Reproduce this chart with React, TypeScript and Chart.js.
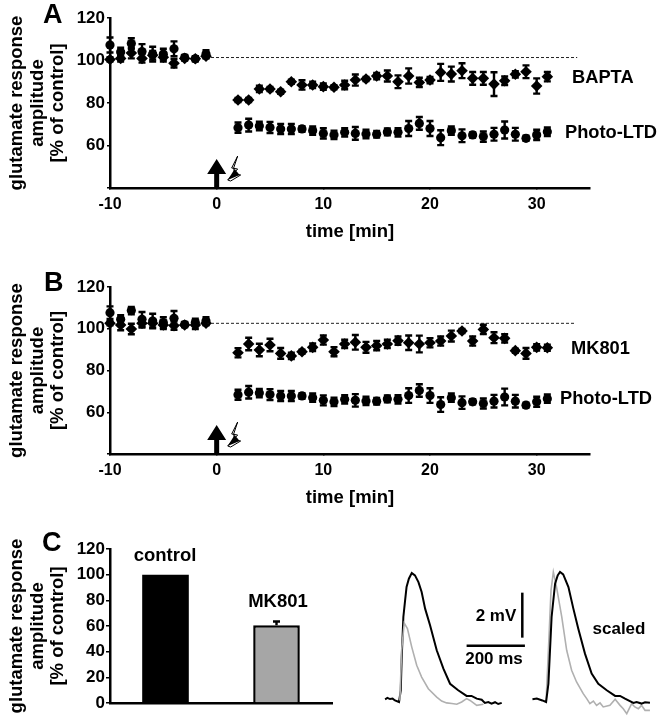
import React, { useEffect, useRef } from "react";
import { Chart, registerables } from "chart.js";

Chart.register(...registerables);

const FONT = "'Liberation Sans', Arial, sans-serif";
const yTitleLines = ["glutamate response", "amplitude", "[% of control]"];

const minutesPre = [-10, -9, -8, -7, -6, -5, -4, -3, -2, -1];
const minutesPost = [2, 3, 4, 5, 6, 7, 8, 9, 10, 11, 12, 13, 14, 15, 16, 17, 18, 19, 20, 21, 22, 23, 24, 25, 26, 27, 28, 29, 30, 31];

const preCircleA = [107.3, 104, 108, 104.2, 103, 103, 105.5, 101.4, 100.8, 103];
const preCircleErrA = [3.5, 2, 2.5, 3.5, 3.5, 2.5, 3.5, 1.2, 1.2, 1.8];
const preDiamondA = [100.5, 101, 103.5, 101, 102.5, 101.5, 98.7, 101, 100.8, 102];
const preDiamondErrA = [1, 1.5, 2.5, 2, 2, 2, 2, 1, 1, 1];
const bapta = [81.4, 81.4, 86.6, 86.6, 85.3, 90, 88.5, 88.5, 87.7, 87.4, 88.5, 90.8, 91.3, 92.7, 92.7, 90, 92.7, 89.7, 90.8, 94.4, 93.6, 95.2, 91.6, 91.6, 88.9, 90.5, 93.5, 94.7, 88, 92.4];
const baptaErr = [1, 1, 1.5, 1, 1, 1, 2.2, 1.5, 1.5, 1, 2, 2.6, 1, 1.5, 2.6, 3, 3.6, 2.2, 1.5, 4, 3.5, 3.5, 3, 3, 5.6, 2, 1.5, 3, 3.6, 2.2];

const photoLTD = [68.4, 69.6, 69.2, 68.5, 67.8, 67.8, 67.8, 67, 65.7, 65, 66.2, 65.7, 65.4, 65.3, 66.4, 66.2, 68, 70.4, 68, 63.7, 67, 64.6, 65, 64.2, 65.3, 67.3, 65.3, 63.4, 65, 66.5];
const photoLTDErr = [2.4, 3, 2, 2.6, 2.4, 2.4, 1.3, 2, 2.4, 2, 2, 3, 2, 1.6, 1.6, 2, 3.5, 3, 3.5, 3.5, 2, 3, 1.2, 2.4, 3, 4, 3, 1.2, 2.4, 2];

const preCircleB = [107.7, 104.5, 108.7, 104.5, 103.7, 103, 105, 102, 103, 103.7];
const preCircleErrB = [3, 2, 1.8, 3.5, 3.5, 2.5, 3.5, 1.2, 1.8, 1.8];
const preDiamondB = [102.6, 101.8, 99.9, 102.6, 102.6, 101.8, 101.5, 101.8, 101.8, 102.6];
const preDiamondErrB = [1, 2.5, 2.5, 2, 2, 2, 2, 1, 2, 1];
const mk801 = [88.5, 92.7, 89.8, 92.2, 88.2, 87, 89, 91.1, 94.6, 89, 92.7, 93.5, 91.1, 91.9, 92.7, 94.3, 93.3, 92.7, 93.3, 94.1, 96.5, 98.9, 94.1, 99.7, 95.7, 95.4, 89.5, 88.2, 91.1, 90.9];
const mk801Err = [2.2, 3, 3, 3, 2.6, 1.5, 1, 1.8, 2.2, 2.2, 2, 3.5, 2.6, 2.2, 2, 2, 3.5, 4, 2.2, 2.2, 2.6, 1, 2.2, 2.2, 2.6, 2, 1, 2.6, 1.5, 1.5];

const barCategories = ["control", "MK801"];
const barValues = [100, 60.5];
const barErrors = [0, 3];
const barColors = ["#000000", "#a6a6a6"];

const blackLeftT = [52, 60, 69, 78, 86, 100, 106, 109, 115, 121, 126, 134, 144, 155, 167, 178, 190, 207, 230, 253, 276, 304, 333, 350, 368, 385, 396, 408, 419, 431, 442, 454];
const blackLeftV = [0.12, 0.18, 0.13, 0.15, 0.07, 0, 0.52, 1.85, 3.78, 4.52, 5.11, 5.48, 5.73, 5.63, 5.33, 4.89, 4.15, 3.41, 2.3, 1.48, 0.81, 0.52, 0.27, 0.27, 0.15, 0.1, -0.04, 0, -0.07, -0.01, -0.09, -0.04];
const grayLeftT = [103, 109, 118, 129, 144, 161, 178, 201, 230, 247, 264, 282, 299, 316, 333, 345, 368, 391];
const grayLeftV = [0.07, 2.3, 3.51, 3.26, 2.44, 1.63, 1.11, 0.59, 0.22, 0.04, -0.04, -0.07, -0.1, 0, 0.15, 0.07, -0.15, -0.1];
const blackRightT = [560, 575, 594, 607, 615, 626, 638, 647, 655, 666, 684, 701, 718, 741, 764, 787, 816, 845, 862, 879, 908, 919, 936, 948, 965];
const blackRightV = [0.12, 0.15, 0.07, 0, 0.81, 3.78, 5.26, 5.63, 5.78, 5.67, 5.11, 4.15, 3.26, 2.15, 1.26, 0.81, 0.52, 0.27, 0.27, 0.15, -0.04, 0, -0.07, -0.01, -0.03];
const grayRightT = [607, 615, 624, 632, 643, 661, 678, 695, 712, 735, 747, 758, 770, 781, 793, 804, 827, 845, 862, 873, 885, 902, 913, 925, 936, 948, 965];
const grayRightV = [0.04, 2.3, 4.96, 5.78, 5.11, 3.78, 2.3, 1.41, 0.89, 0.37, 0.15, -0.07, 0.04, -0.15, -0.04, -0.22, -0.15, 0.12, -0.15, -0.3, -0.52, -0.07, -0.22, -0.3, -0.15, -0.37, -0.37];
const scaleBarTimeT = [333, 534];
const scaleBarTimeV = [2.5, 2.5];
const scaleBarVoltT = [525, 525];
const scaleBarVoltV = [2.86, 4.86];

const zip = (xs: number[], ys: number[]) => xs.map((x, i) => ({ x, y: ys[i] }));

type Label = { text: string; x: number; y: number; size?: number; align?: CanvasTextAlign };

const labelsPlugin = {
  id: "panelLabels",
  afterDraw(chart: any) {
    const labels: Label[] = chart.options.plugins.panelLabels?.labels || [];
    const { ctx } = chart;
    ctx.save();
    ctx.fillStyle = "#000";
    ctx.textBaseline = "middle";
    labels.forEach((l) => {
      ctx.font = `bold ${l.size || 18.3}px ${FONT}`;
      ctx.textAlign = l.align || "left";
      ctx.fillText(l.text, l.x, l.y);
    });
    ctx.restore();
  },
};

const errorBarsPlugin = {
  id: "errorBars",
  afterDatasetsDraw(chart: any) {
    const { ctx, scales } = chart;
    ctx.save();
    ctx.strokeStyle = "#000";
    ctx.lineWidth = 2.4;
    chart.data.datasets.forEach((ds: any, di: number) => {
      if (!ds.errors) return;
      const meta = chart.getDatasetMeta(di);
      meta.data.forEach((el: any, i: number) => {
        const e = ds.errors[i];
        if (!e) return;
        const v = chart.config.type === "bar" ? ds.data[i] : ds.data[i].y;
        const top = scales.y.getPixelForValue(v + e);
        const bot = scales.y.getPixelForValue(ds.errorUpOnly ? v : v - e);
        ctx.beginPath();
        ctx.moveTo(el.x, top);
        ctx.lineTo(el.x, bot);
        ctx.moveTo(el.x - 3.5, top);
        ctx.lineTo(el.x + 3.5, top);
        if (!ds.errorUpOnly) {
          ctx.moveTo(el.x - 3.5, bot);
          ctx.lineTo(el.x + 3.5, bot);
        }
        ctx.stroke();
      });
    });
    ctx.restore();
  },
};

const stimulusPlugin = {
  id: "stimulus",
  afterDatasetsDraw(chart: any) {
    const { ctx, scales } = chart;
    const x0 = scales.x.getPixelForValue(0);
    const base = scales.y.bottom;
    ctx.save();
    ctx.fillStyle = "#000";
    ctx.beginPath();
    ctx.moveTo(x0, base - 29);
    ctx.lineTo(x0 + 9.5, base - 14);
    ctx.lineTo(x0 + 2.5, base - 14);
    ctx.lineTo(x0 + 2.5, base);
    ctx.lineTo(x0 - 2.5, base);
    ctx.lineTo(x0 - 2.5, base - 14);
    ctx.lineTo(x0 - 9.5, base - 14);
    ctx.closePath();
    ctx.fill();
    const lx = x0 + 12;
    ctx.beginPath();
    ctx.moveTo(lx + 9, base - 32);
    ctx.lineTo(lx + 3, base - 20);
    ctx.lineTo(lx + 9, base - 19);
    ctx.lineTo(lx - 1, base - 8);
    ctx.lineTo(lx + 2, base - 7);
    ctx.lineTo(lx + 12, base - 13);
    ctx.lineTo(lx + 6, base - 14);
    ctx.lineTo(lx + 5, base - 20);
    ctx.closePath();
    ctx.strokeStyle = "#000";
    ctx.lineWidth = 1;
    ctx.stroke();
    ctx.beginPath();
    ctx.moveTo(lx + 6, base - 19);
    ctx.lineTo(lx - 1, base - 8);
    ctx.lineTo(lx + 11, base - 13);
    ctx.closePath();
    ctx.fill();
    ctx.restore();
  },
};

const axisCommon = {
  border: { color: "#000", width: 2.5 },
  grid: { drawOnChartArea: false, color: "#000", lineWidth: 1.5 },
};

function timeChart(
  canvas: HTMLCanvasElement,
  series: any[],
  dashY: number,
  dashEnd: number,
  chartTop: number,
  chartBottom: number,
  labels: Label[],
) {
  const H = canvas.height;
  const datasets: any[] = [
    {
      type: "line",
      data: [{ x: -1, y: dashY }, { x: dashEnd, y: dashY }],
      borderColor: "#222",
      borderWidth: 1,
      borderDash: [3, 2],
      pointRadius: 0,
    },
    ...series.map((s) => ({
      type: "line",
      showLine: false,
      clip: false,
      data: zip(s.x, s.y),
      errors: s.err,
      pointStyle: s.style,
      pointRadius: s.style === "circle" ? 4.6 : 5.8,
      pointBackgroundColor: "#000",
      pointBorderColor: "#000",
      pointBorderWidth: 0,
    })),
  ];
  return new Chart(canvas, {
    type: "line",
    data: { datasets },
    plugins: [errorBarsPlugin, stimulusPlugin, labelsPlugin],
    options: {
      animation: false,
      responsive: false,
      layout: { padding: { top: chartTop, right: 73, left: 0, bottom: 0 } },
      plugins: { legend: { display: false }, tooltip: { enabled: false }, panelLabels: { labels } } as any,
      scales: {
        x: {
          ...axisCommon,
          type: "linear",
          min: -10,
          max: 35,
          afterFit: (s: any) => { s.height = H - chartBottom; },
          grid: { ...axisCommon.grid, tickLength: 1 },
          ticks: { stepSize: 10, includeBounds: false, color: "#000", padding: 6, maxRotation: 0, font: { family: FONT, weight: "bold", size: 16 } },
          title: { display: true, text: "time [min]", color: "#000", font: { family: FONT, weight: "bold", size: 18.5, lineHeight: 1.1 }, padding: { top: 0, bottom: H - chartBottom - 54 } },
        },
        y: {
          ...axisCommon,
          min: 40,
          max: 120,
          afterFit: (s: any) => { s.width = 110; },
          grid: { ...axisCommon.grid, tickLength: 3 },
          ticks: { stepSize: 20, color: "#000", padding: 2, font: { family: FONT, weight: "bold", size: 17 }, callback: (v: any) => (v === 40 ? "" : String(v)) },
          title: { display: true, text: yTitleLines, color: "#000", font: { family: FONT, weight: "bold", size: 18.5, lineHeight: 1.1 }, padding: { top: 7, bottom: 0 } },
        },
      },
    } as any,
  });
}

function barChart(canvas: HTMLCanvasElement) {
  return new Chart(canvas, {
    type: "bar",
    data: {
      labels: barCategories,
      datasets: [
        {
          data: barValues,
          errors: barErrors,
          errorUpOnly: true,
          backgroundColor: barColors,
          borderColor: "#000",
          borderWidth: [0, 2.5],
          barPercentage: 0.42,
          categoryPercentage: 1,
        } as any,
      ],
    },
    plugins: [errorBarsPlugin, labelsPlugin],
    options: {
      animation: false,
      responsive: false,
      layout: { padding: { top: 29, right: 331, left: 0, bottom: 0 } },
      plugins: {
        legend: { display: false },
        tooltip: { enabled: false },
        panelLabels: {
          labels: [
            { text: "C", x: 42, y: 24, size: 27 },
            { text: "control", x: 165, y: 36, size: 18.5, align: "center" },
            { text: "MK801", x: 278, y: 82, size: 18.5, align: "center" },
          ],
        },
      } as any,
      scales: {
        x: {
          ...axisCommon,
          afterFit: (s: any) => { s.height = 17; },
          grid: { display: false },
          ticks: { display: false },
        },
        y: {
          ...axisCommon,
          min: 0,
          max: 120,
          afterFit: (s: any) => { s.width = 110; },
          grid: { ...axisCommon.grid, tickLength: 4 },
          ticks: { stepSize: 20, color: "#000", padding: 1, font: { family: FONT, weight: "bold", size: 17 } },
          title: { display: true, text: yTitleLines, color: "#000", font: { family: FONT, weight: "bold", size: 18.5, lineHeight: 1.1 }, padding: { top: 7, bottom: 0 } },
        },
      },
    } as any,
  });
}

function traceChart(canvas: HTMLCanvasElement) {
  const trace = (t: number[], v: number[], color: string, width = 2) => ({
    data: zip(t, v),
    borderColor: color,
    borderWidth: width,
    pointRadius: 0,
    tension: 0,
  });
  return new Chart(canvas, {
    type: "line",
    data: {
      datasets: [
        trace(grayLeftT, grayLeftV, "#b0b0b0", 1.6),
        trace(blackLeftT, blackLeftV, "#000"),
        trace(blackRightT, blackRightV, "#000"),
        trace(grayRightT, grayRightV, "#b0b0b0", 1.6),
        trace(scaleBarTimeT, scaleBarTimeV, "#000", 2.5),
        trace(scaleBarVoltT, scaleBarVoltV, "#000", 2.5),
      ],
    },
    plugins: [labelsPlugin],
    options: {
      animation: false,
      responsive: false,
      plugins: {
        legend: { display: false },
        tooltip: { enabled: false },
        panelLabels: {
          labels: [
            { text: "2 mV", x: 126, y: 66, size: 17, align: "center" },
            { text: "200 ms", x: 124, y: 109, size: 17, align: "center" },
            { text: "scaled", x: 249, y: 79, size: 17, align: "center" },
          ],
        },
      } as any,
      scales: {
        x: { type: "linear", display: false, min: 0, max: 1010 },
        y: { type: "linear", display: false, min: -0.8, max: 6.756 },
      },
    } as any,
  });
}

export default function App() {
  const aRef = useRef<HTMLCanvasElement>(null);
  const bRef = useRef<HTMLCanvasElement>(null);
  const cRef = useRef<HTMLCanvasElement>(null);
  const tRef = useRef<HTMLCanvasElement>(null);

  useEffect(() => {
    document.body.style.margin = "0";
    const charts = [
      timeChart(
        aRef.current!,
        [
          { x: minutesPre, y: preCircleA, err: preCircleErrA, style: "circle" },
          { x: minutesPre, y: preDiamondA, err: preDiamondErrA, style: "rectRot" },
          { x: minutesPost, y: bapta, err: baptaErr, style: "rectRot" },
          { x: minutesPost, y: photoLTD, err: photoLTDErr, style: "circle" },
        ],
        101.4,
        33.8,
        18,
        188,
        [
          { text: "A", x: 43, y: 16, size: 27 },
          { text: "BAPTA", x: 572, y: 78 },
          { text: "Photo-LTD", x: 565, y: 133 },
        ],
      ),
      timeChart(
        bRef.current!,
        [
          { x: minutesPre, y: preCircleB, err: preCircleErrB, style: "circle" },
          { x: minutesPre, y: preDiamondB, err: preDiamondErrB, style: "rectRot" },
          { x: minutesPost, y: mk801, err: mk801Err, style: "rectRot" },
          { x: minutesPost, y: photoLTD, err: photoLTDErr, style: "circle" },
        ],
        102.6,
        33.6,
        27,
        194,
        [
          { text: "B", x: 44, y: 24, size: 27 },
          { text: "MK801", x: 571, y: 89 },
          { text: "Photo-LTD", x: 560, y: 139 },
        ],
      ),
      barChart(cRef.current!),
      traceChart(tRef.current!),
    ];
    return () => charts.forEach((c) => c.destroy());
  }, []);

  const abs = (left: number, top: number): React.CSSProperties => ({ position: "absolute", left, top });

  return (
    <div style={{ position: "absolute", left: 0, top: 0, width: 663, height: 720, background: "#fff", overflow: "hidden" }}>
      <canvas ref={aRef} width={663} height={250} style={abs(0, 0)} />
      <canvas ref={bRef} width={663} height={260} style={abs(0, 260)} />
      <canvas ref={cRef} width={663} height={200} style={abs(0, 520)} />
      <canvas ref={tRef} width={293} height={170} style={abs(370, 550)} />
    </div>
  );
}
